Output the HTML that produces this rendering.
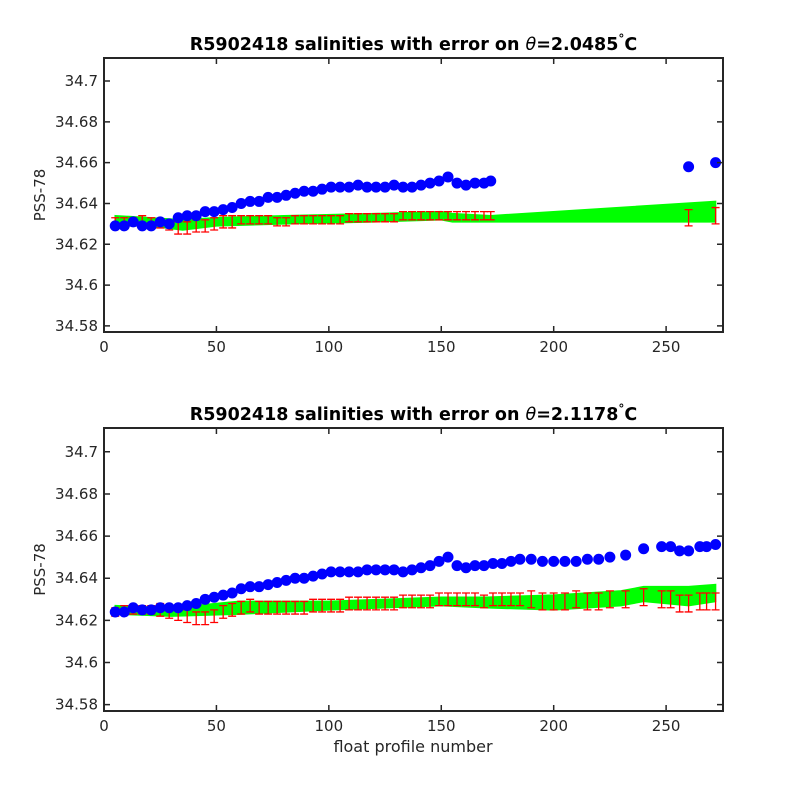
<!DOCTYPE html>
<html><head><meta charset="utf-8"><style>
body{margin:0;background:#fff;}
svg text{font-family:"DejaVu Sans","Liberation Sans",sans-serif;}
</style></head><body>
<svg id="c" width="800" height="800" xmlns="http://www.w3.org/2000/svg"></svg>
<script>
// ---- data ----
const xTicks=[0,50,100,150,200,250];
const yTicks=[34.58,34.6,34.62,34.64,34.66,34.68,34.7];
const yTickLabels=["34.58","34.6","34.62","34.64","34.66","34.68","34.7"];
const top_blueX=[5,9,13,17,21,25,29,33,37,41,45,49,53,57,61,65,69,73,77,81,85,89,93,97,101,105,109,113,117,121,125,129,133,137,141,145,149,153,157,161,165,169,172,260,272];
const top_blueY=[34.629,34.629,34.631,34.629,34.629,34.631,34.630,34.633,34.634,34.634,34.636,34.636,34.637,34.638,34.640,34.641,34.641,34.643,34.643,34.644,34.645,34.646,34.646,34.647,34.648,34.648,34.648,34.649,34.648,34.648,34.648,34.649,34.648,34.648,34.649,34.650,34.651,34.653,34.650,34.649,34.650,34.650,34.651,34.658,34.660];
const top_redY=[34.631,34.631,34.631,34.632,34.631,34.630,34.629,34.628,34.628,34.629,34.629,34.630,34.631,34.631,34.632,34.632,34.632,34.632,34.631,34.631,34.632,34.632,34.632,34.632,34.632,34.632,34.633,34.633,34.633,34.633,34.633,34.633,34.634,34.634,34.634,34.634,34.634,34.634,34.634,34.634,34.634,34.634,34.634,34.633,34.634];
const top_redErr=[0.002,0.002,0.002,0.002,0.002,0.002,0.002,0.003,0.003,0.003,0.003,0.003,0.003,0.003,0.002,0.002,0.002,0.002,0.002,0.002,0.002,0.002,0.002,0.002,0.002,0.002,0.002,0.002,0.002,0.002,0.002,0.002,0.002,0.002,0.002,0.002,0.002,0.002,0.002,0.002,0.002,0.002,0.002,0.004,0.004];
const top_greenX=[5,20,35,50,80,120,150,155,172,272];
const top_greenLo=[34.629,34.629,34.627,34.629,34.630,34.631,34.632,34.631,34.631,34.631];
const top_greenHi=[34.634,34.633,34.632,34.633,34.634,34.635,34.636,34.635,34.634,34.641];
const bot_blueX=[5,9,13,17,21,25,29,33,37,41,45,49,53,57,61,65,69,73,77,81,85,89,93,97,101,105,109,113,117,121,125,129,133,137,141,145,149,153,157,161,165,169,173,177,181,185,190,195,200,205,210,215,220,225,232,240,248,252,256,260,265,268,272];
const bot_blueY=[34.624,34.624,34.626,34.625,34.625,34.626,34.626,34.626,34.627,34.628,34.630,34.631,34.632,34.633,34.635,34.636,34.636,34.637,34.638,34.639,34.640,34.640,34.641,34.642,34.643,34.643,34.643,34.643,34.644,34.644,34.644,34.644,34.643,34.644,34.645,34.646,34.648,34.650,34.646,34.645,34.646,34.646,34.647,34.647,34.648,34.649,34.649,34.648,34.648,34.648,34.648,34.649,34.649,34.650,34.651,34.654,34.655,34.655,34.653,34.653,34.655,34.655,34.656];
const bot_redY=[34.624,34.625,34.625,34.625,34.625,34.625,34.624,34.623,34.622,34.621,34.621,34.622,34.624,34.625,34.626,34.627,34.626,34.626,34.626,34.626,34.626,34.626,34.627,34.627,34.627,34.627,34.628,34.628,34.628,34.628,34.628,34.628,34.629,34.629,34.629,34.629,34.630,34.630,34.630,34.630,34.630,34.629,34.630,34.630,34.630,34.630,34.630,34.629,34.629,34.629,34.630,34.629,34.629,34.630,34.630,34.631,34.630,34.630,34.628,34.628,34.629,34.629,34.629];
const bot_redErr=[0.002,0.002,0.002,0.002,0.002,0.003,0.003,0.003,0.003,0.003,0.003,0.003,0.003,0.003,0.003,0.003,0.003,0.003,0.003,0.003,0.003,0.003,0.003,0.003,0.003,0.003,0.003,0.003,0.003,0.003,0.003,0.003,0.003,0.003,0.003,0.003,0.003,0.003,0.003,0.003,0.003,0.003,0.003,0.003,0.003,0.003,0.004,0.004,0.004,0.004,0.004,0.004,0.004,0.004,0.004,0.004,0.004,0.004,0.004,0.004,0.004,0.004,0.004];
const bot_greenX=[5,30,60,100,150,170,200,230,240,260,272];
const bot_greenLo=[34.623,34.622,34.623,34.625,34.627,34.626,34.625,34.627,34.629,34.627,34.629];
const bot_greenHi=[34.627,34.626,34.629,34.629,34.631,34.631,34.632,34.634,34.636,34.636,34.637];

const NS="http://www.w3.org/2000/svg";
const svg=document.getElementById('c');
function mk(tag,attrs,parent){const e=document.createElementNS(NS,tag);for(const k in attrs)e.setAttribute(k,attrs[k]);(parent||svg).appendChild(e);return e;}

function panel(top,bottom,title1,title2,gx,glo,ghi,bx,by,ry,rerr,name){
  const L=104,R=723,xmin=0,xmax=275.3,ymin=34.577,ymax=34.7113;
  const X=v=>L+(v-xmin)/(xmax-xmin)*(R-L);
  const Y=v=>bottom-(v-ymin)/(ymax-ymin)*(bottom-top);
  const g=mk('g',{});
  
  
  let d='';
  gx.forEach((x,i)=>{d+=(i?'L':'M')+X(x)+','+Y(ghi[i]);});
  for(let i=gx.length-1;i>=0;i--)d+='L'+X(gx[i])+','+Y(glo[i]);
  const band=mk('path',{d:d+'Z',fill:'#00ff00',stroke:'#00ff00','stroke-width':1.5},g);
  
  
  bx.forEach((x,i)=>{
    if(i>=ry.length)return;
    const cx=X(x),y1=Y(ry[i]-rerr[i]),y2=Y(ry[i]+rerr[i]);
    const e=mk('path',{d:`M${cx},${y1}V${y2}M${cx-4},${y1}H${cx+4}M${cx-4},${y2}H${cx+4}`,stroke:'#ff0000','stroke-width':1.3,fill:'none'},g);
    
    
  });
  bx.forEach((x,i)=>{
    const c=mk('circle',{cx:X(x),cy:Y(by[i]),r:5,fill:'#0000ff',stroke:'#0000ff','stroke-width':1},g);
    
    
  });
  const box=mk('rect',{x:L,y:top,width:R-L,height:bottom-top,fill:'none',stroke:'#262626','stroke-width':2},g);
  
  
  xTicks.forEach(t=>{
    mk('path',{d:`M${X(t)},${bottom}v-6M${X(t)},${top}v6`,stroke:'#262626','stroke-width':1.5},g);
    const tx=mk('text',{x:X(t),y:bottom+20,'text-anchor':'middle','font-size':15,fill:'#262626'},g);
    tx.textContent=t;
    
    
  });
  yTicks.forEach((t,i)=>{
    mk('path',{d:`M${L},${Y(t)}h6M${R},${Y(t)}h-6`,stroke:'#262626','stroke-width':1.5},g);
    const tx=mk('text',{x:L-6,y:Y(t)+5,'text-anchor':'end','font-size':15,fill:'#262626'},g);
    tx.textContent=yTickLabels[i];
    
    
  });
  const yl=mk('text',{x:0,y:0,transform:`translate(45,${(top+bottom)/2}) rotate(-90)`,'text-anchor':'middle','font-size':15,fill:'#262626'},g);
  yl.textContent='PSS-78';
  
  
  const tt=mk('text',{x:(L+R)/2,y:top-8,'text-anchor':'middle','font-size':17.5,'font-weight':'bold',fill:'#000'},g);
  tt.innerHTML=title1+'<tspan font-style="italic" font-weight="normal">θ</tspan>='+title2+'<tspan dy="-7" font-size="12">°</tspan><tspan dy="7">C</tspan>';
  
  
}
panel(58,332,'R5902418 salinities with error on ','2.0485',top_greenX,top_greenLo,top_greenHi,top_blueX,top_blueY,top_redY,top_redErr,'top-panel');
panel(428,711,'R5902418 salinities with error on ','2.1178',bot_greenX,bot_greenLo,bot_greenHi,bot_blueX,bot_blueY,bot_redY,bot_redErr,'bottom-panel');
const xl=mk('text',{x:413,y:752,'text-anchor':'middle','font-size':16,fill:'#262626'});
xl.textContent='float profile number';


</script>
</body></html>
